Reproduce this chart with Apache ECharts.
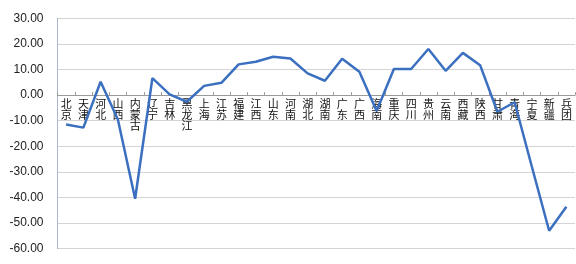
<!DOCTYPE html>
<html><head><meta charset="utf-8">
<script src="https://cdn.jsdelivr.net/npm/echarts@6/dist/echarts.min.js"></script>
<style>html,body{margin:0;padding:0;background:#fff}#c{width:576px;height:264px}</style>
</head><body><div id="c"></div>
<script>
var categories = ['北京','天津','河北','山西','内蒙古','辽宁','吉林','黑龙江','上海','江苏','福建','江西','山东','河南','湖北','湖南','广东','广西','海南','重庆','四川','贵州','云南','西藏','陕西','甘肃','青海','宁夏','新疆','兵团'];
var values = [-11.5,-12.7,5.2,-9.5,-40.5,6.6,0.3,-2.6,3.6,4.8,12.0,13.0,15.0,14.3,8.5,5.6,14.2,9.1,-6.2,10.2,10.2,18.0,9.5,16.5,11.7,-6.5,-2.8,-28.0,-53.0,-43.6];
var yTicks = {min:-60, max:30, interval:10};

var gridTop = 18.3, gridBottom = 15.3, H = 264;
var zeroOffset = -(H - gridTop - gridBottom) * (0 - yTicks.min) / (yTicks.max - yTicks.min);

var chart = echarts.init(document.getElementById('c'), null, {renderer:'canvas'});
chart.setOption({
  animation:false,
  grid:{left:57.5, right:1, top:gridTop, bottom:gridBottom, containLabel:false, outerBoundsMode:'none'},
  xAxis:{
    type:'category', data:categories, boundaryGap:true, position:'bottom', offset:zeroOffset, z:0,
    axisLine:{onZero:false, lineStyle:{color:'#9a9a9a', width:1}},
    axisTick:{show:true, inside:true, length:3, lineStyle:{color:'#9a9a9a'}},
    axisLabel:{interval:0, margin:3, fontSize:11, color:'#111', fontFamily:'Noto Sans CJK SC', lineHeight:11,
      formatter:function(v){return v.split('').join('\n');}},
    splitLine:{show:false}
  },
  yAxis:{
    type:'value', min:yTicks.min, max:yTicks.max, interval:yTicks.interval,
    axisLine:{show:true, lineStyle:{color:'#aab8d6', width:1}},
    axisTick:{show:false},
    axisLabel:{margin:14, fontSize:12, color:'#222', fontFamily:'Liberation Sans',
      formatter:function(v){return v.toFixed(2);}},
    splitLine:{show:true, lineStyle:{color:'#a8a8a8', type:[1,1], width:1}}
  },
  series:[{type:'line', data:values, symbol:'none', smooth:false, z:5,
    lineStyle:{color:'#3b6fbf', width:2.5}}]
});
</script></body></html>
